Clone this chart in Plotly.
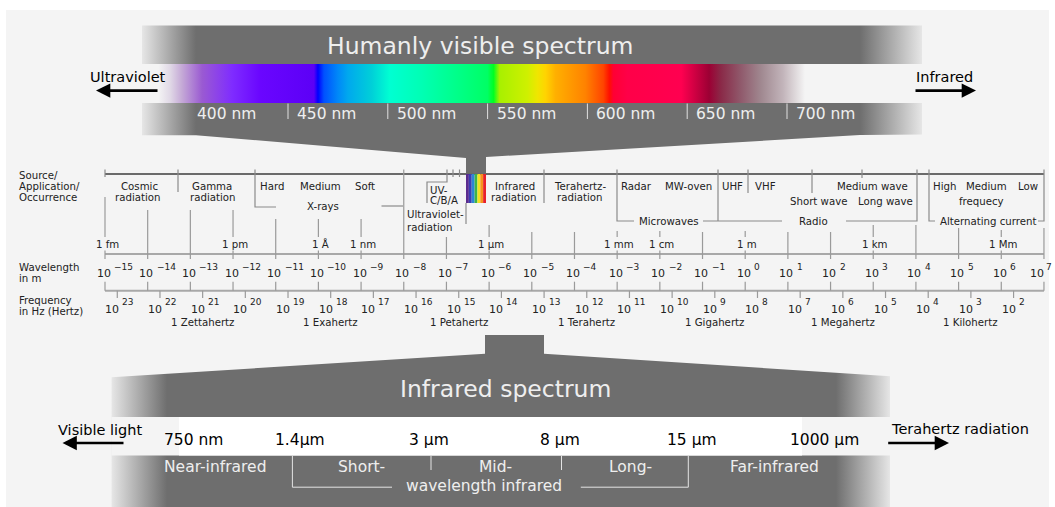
import plotly.graph_objects as go

FONT = "DejaVu Sans"
W, H = 1055, 507

# ---------------- data ----------------
visible_tick_nm = [400, 450, 500, 550, 600, 650, 700]
spectrum_nm = [385, 391, 397, 407, 422, 436, 463, 465, 468, 475, 480, 492, 501, 517, 550, 553,
               556, 570, 575, 579, 584, 599, 608, 611, 613, 620, 647, 661, 667, 677, 687, 698, 709]
spectrum_hex = ['#f4f4f4', '#e0d8e6', '#c4a8d6', '#9a5ad2', '#7f2cff', '#6a06ff', '#5c00f6',
                '#0000ff', '#0050ff', '#0088f8', '#00a8ee', '#00d0d8', '#00ffd2', '#00ffb4',
                '#00ff64', '#00ff22', '#a8f000', '#cff000', '#efe600', '#ffd400', '#ffb000',
                '#ff8200', '#ff4400', '#ff1000', '#ff0034', '#ff0048', '#ff0050', '#9c0034',
                '#8a2a48', '#905a6c', '#a08890', '#c2b4ba', '#f4f4f4']

wl_exponents = list(range(-15, 8))
wl_unit_labels = {-15: "1 fm", -12: "1 pm", -10: "1 Å", -9: "1 nm", -6: "1 µm", -3: "1 mm",
                  -2: "1 cm", 0: "1 m", 3: "1 km", 6: "1 Mm"}
freq_exponents = list(range(23, 1, -1))
freq_names = {21: "1 Zettahertz", 18: "1 Exahertz", 15: "1 Petahertz", 12: "1 Terahertz",
              9: "1 Gigahertz", 6: "1 Megahertz", 3: "1 Kilohertz"}
rainbow_hex = ['#5b2c8f', '#3b3fb2', '#2b86d6', '#3cb44a', '#f4e11e', '#f7931d', '#e8202a']

ir_boundary_labels = ["750 nm", "1.4μm", "3 μm", "8 μm", "15 μm", "1000 μm"]
ir_band_labels = ["Near-infrared", "Short-", "Mid-", "Long-", "Far-infrared"]

# ---------------- layout geometry (pixels) ----------------
WL_X0, WL_DEC = 105.0, 42.68        # pixel of 10^-15 m, pixels per decade
FREQ_LOG_OFFSET = 8.288             # log10 alignment between Hz and m scales as drawn
VIS_X450, VIS_PX_NM = 288.0, 1.996  # pixel of 450 nm, pixels per nm
LOG_RANGE = [-15 - WL_X0 / WL_DEC, -15 + (W - WL_X0) / WL_DEC]
NM_RANGE = [450 - VIS_X450 / VIS_PX_NM, 450 + (W - VIS_X450) / VIS_PX_NM]

wl_leader_top = [197, 210, 210, 210, 219, 219, 219, 169.5, 237, 225, 232, 232, 231, 231, 232,
                 231, 232, 232, 225, 225, 228, 230, 228]
ir_boundary_x = [193.6, 300, 428.6, 559.6, 691.5, 824]
ir_band_x = [214.6, 361, 495, 630.6, 774]

DARK = '#6e6e6e'
BG = '#f4f4f4'
EDGE = '#e6e6e6'
TXT = '#222222'
LIGHT_TXT = '#eeeeee'

fig = go.Figure()
shapes = []
ann = []


def poly(xs, ys, color=None, grad=None, xaxis='x'):
    kw = dict(x=xs + [xs[0]], y=ys + [ys[0]], mode='lines', fill='toself',
              line=dict(width=0, color='rgba(0,0,0,0)'), hoverinfo='skip', showlegend=False,
              xaxis=xaxis, yaxis='y')
    if grad is not None:
        kw['fillgradient'] = grad
        kw['fillcolor'] = DARK
    else:
        kw['fillcolor'] = color
    fig.add_trace(go.Scatter(**kw))


def fade_grad(x0, x1, x2, x3):
    span = x3 - x0
    return dict(type='horizontal', start=x0, stop=x3,
                colorscale=[[0, EDGE], [(x1 - x0) / span, DARK], [(x2 - x0) / span, DARK], [1, EDGE]])


def path(pts, color='#808080', width=1.2, xref='x', layer='above'):
    d = "M " + " L ".join(f"{x},{y}" for x, y in pts)
    shapes.append(dict(type='path', path=d, xref=xref, yref='y',
                       line=dict(color=color, width=width), layer=layer))


def seg(x0, y0, x1, y1, color='#9a9a9a', width=1.2, xref='x'):
    shapes.append(dict(type='line', x0=x0, y0=y0, x1=x1, y1=y1, xref=xref, yref='y',
                       line=dict(color=color, width=width), layer='above'))


def txt(s, x, y, size=10.2, color=TXT, xanchor='center', xref='x', xshift=0):
    ann.append(dict(text=s, x=x, y=y, xref=xref, yref='y', showarrow=False,
                    font=dict(family=FONT, size=size, color=color), xanchor=xanchor,
                    yanchor='middle', xshift=xshift, borderpad=0))


def arrow(tail, head, y):
    ann.append(dict(x=head, y=y, ax=tail, ay=y, xref='x', yref='y', axref='x', ayref='y',
                    showarrow=True, arrowhead=2, arrowsize=1.1, arrowwidth=2.6,
                    arrowcolor='black', text=''))


# dummy traces so overlay axes exist
fig.add_trace(go.Scatter(x=[LOG_RANGE[0]], y=[-10], xaxis='x2', yaxis='y', mode='markers',
                         marker=dict(opacity=0), hoverinfo='skip', showlegend=False))
fig.add_trace(go.Scatter(x=[NM_RANGE[0]], y=[-10], xaxis='x3', yaxis='y', mode='markers',
                         marker=dict(opacity=0), hoverinfo='skip', showlegend=False))

# panel background
shapes.append(dict(type='rect', x0=6, x1=1049, y0=10, y1=507, xref='x', yref='y',
                   fillcolor=BG, line=dict(width=0), layer='below'))

# ---------------- top: visible spectrum ----------------
poly([142, 922, 922, 860, 486, 486, 466, 466, 196, 142],
     [25.4, 25.4, 134.5, 135, 157, 174, 174, 158, 135.2, 135.2],
     grad=fade_grad(142, 196, 860, 922))
poly([142, 922, 922, 142], [63.9, 63.9, 103, 103], color=BG)
s0, s1 = spectrum_nm[0], spectrum_nm[-1]
poly([s0, s1, s1, s0], [63.9, 63.9, 103, 103], xaxis='x3',
     grad=dict(type='horizontal', start=s0, stop=s1,
               colorscale=[[(n - s0) / (s1 - s0), c] for n, c in zip(spectrum_nm, spectrum_hex)]))

txt("Humanly visible spectrum", 480, 45.6, size=23.5, color=LIGHT_TXT)
for nm in visible_tick_nm:
    if nm > 400:
        seg(nm, 103.5, nm, 119, color='#e0e0e0', width=1, xref='x3')
    txt(f"{nm} nm", nm, 114, size=15.5, color=LIGHT_TXT, xanchor='left', xref='x3', xshift=8)

txt("Ultraviolet", 128, 77, size=14.5, color='black')
arrow(159, 96, 90.6)
txt("Infrared", 944.5, 77, size=14.5, color='black')
arrow(914, 976, 90.6)

# ---------------- middle: source / wavelength / frequency ----------------
for s, y in [("Source/", 175), ("Application/", 186.5), ("Occurrence", 197.5),
             ("Wavelength", 267), ("in m", 278), ("Frequency", 300), ("in Hz (Hertz)", 311)]:
    txt(s, 18, y, size=10.2, xanchor='left')

seg(wl_exponents[0], 174, wl_exponents[-1], 174, color='#6a6a6a', width=2, xref='x2')

source_lines = [
    [(105, 169.5), (105, 177)],
    [(178, 169.5), (178, 192)],
    [(255, 169.5), (255, 207), (276, 207)],
    [(381.5, 206), (403, 206)],
    [(447, 169.5), (447, 182), (427, 182), (427, 203)],
    [(453, 169.5), (453, 177)],
    [(459.5, 169.5), (459.5, 177)],
    [(466, 203), (466, 224)],
    [(544, 169.5), (544, 203)],
    [(617, 169.5), (617, 221), (634, 221)],
    [(703, 221), (782, 221)],
    [(718, 169.5), (718, 221)],
    [(748, 169.5), (748, 193)],
    [(812, 169.5), (812, 193)],
    [(862, 169.5), (862, 178)],
    [(846, 221), (917, 221), (917, 169.5)],
    [(929, 169.5), (929, 221), (935, 221)],
    [(1038, 221), (1044, 221), (1044, 169.5)],
]
for pts in source_lines:
    path(pts, color='#8a8a8a', width=1.2)

# rainbow under the visible funnel
rw = 20 / len(rainbow_hex)
for i, c in enumerate(rainbow_hex):
    shapes.append(dict(type='rect', x0=466 + i * rw, x1=466 + (i + 1) * rw, y0=174, y1=203,
                       xref='x', yref='y', fillcolor=c, line=dict(width=0), layer='above'))

source_texts = [
    ("Cosmic", 139.5, 186.7), ("radiation", 138, 197), ("Gamma", 212, 186.7), ("radiation", 213, 197),
    ("Hard", 271.7, 186.7), ("Medium", 320, 186.7), ("Soft", 365, 186.7), ("X-rays", 323.3, 206.7),
    ("Infrared", 515, 186.7), ("radiation", 514, 197), ("Terahertz-", 579.7, 186.7),
    ("radiation", 580, 197), ("Radar", 636.7, 186.7), ("MW-oven", 688, 186.7),
    ("UHF", 732, 186.7), ("VHF", 765, 186.7), ("Medium wave", 872, 186.7),
    ("Short wave", 818, 201), ("Long wave", 885.8, 201), ("High", 944.5, 186.7),
    ("Medium", 986, 186.7), ("Low", 1028, 186.7), ("frequecy", 981.7, 201),
    ("Microwaves", 668.8, 221), ("Radio", 813, 221), ("Alternating current", 988.7, 221),
]
for s, x, y in source_texts:
    txt(s, x, y)
for s, y in [("UV-", 190.5), ("C/B/A", 200.5), ("Ultraviolet-", 214.8), ("radiation", 227.2)]:
    txt(s, 429 if s in ("UV-", "C/B/A") else 405.5, y, xanchor='left')

# wavelength axis
seg(wl_exponents[0], 254, wl_exponents[-1], 254, color='#a8a8a8', width=2, xref='x2')
seg(wl_exponents[0], 290.7, wl_exponents[-1], 290.7, color='#a8a8a8', width=2, xref='x2')
for e, top in zip(wl_exponents, wl_leader_top):
    if e in wl_unit_labels:
        seg(e, top, e, 237, xref='x2')
        seg(e, 250.5, e, 259, xref='x2')
        txt(wl_unit_labels[e], e, 244, size=10.2, xref='x2', xshift=2)
    else:
        seg(e, top, e, 259, xref='x2')
    seg(e, 281.7, e, 290.7, xref='x2')
    last = e == wl_exponents[-1]
    txt("10", e, 273.3, size=11, xref='x2', xshift=-7 if last else -1.5)
    txt(f"{e}".replace('-', '−'), e, 267, size=9, xref='x2', xanchor='left',
        xshift=1 if last else 8)

# frequency axis
for n in freq_exponents:
    fx = FREQ_LOG_OFFSET - n
    seg(fx, 290.7, fx, 298, xref='x2')
    txt("10", fx, 309.3, size=11, xref='x2', xshift=-5)
    txt(f"{n}", fx, 301.7, size=9, xref='x2', xanchor='left', xshift=4)
    if n in freq_names:
        txt(freq_names[n], fx, 322, size=10.2, xref='x2')

# ---------------- bottom: infrared spectrum ----------------
poly([485, 544, 544, 890, 890, 111.6, 111.6, 485],
     [335, 335, 353.7, 376.3, 507, 507, 377.3, 353.7],
     grad=fade_grad(111.6, 167, 836, 890))
poly([111.6, 890, 890, 111.6], [417, 417, 455.5, 455.5], color=BG)
poly([179, 802, 802, 179], [417, 417, 455.5, 455.5], color='#ffffff')

txt("Infrared spectrum", 505, 389, size=23.5, color=LIGHT_TXT)
for s, x in zip(ir_boundary_labels, ir_boundary_x):
    txt(s, x, 440, size=15.5, color='black')
for s, x in zip(ir_band_labels, ir_band_x):
    txt(s, x, 467, size=15.5, color=LIGHT_TXT)
txt("wavelength infrared", 483.6, 485.5, size=15.5, color=LIGHT_TXT)
for pts in [[(292.4, 455.8), (292.4, 487.2), (392, 487.2)],
            [(431, 456), (431, 470)],
            [(561.5, 456), (561.5, 470)],
            [(580.8, 487.2), (688.3, 487.2), (688.3, 455.8)]]:
    path(pts, color='#e4e4e4', width=1)

txt("Visible light", 99.7, 429.7, size=14.5, color='black')
arrow(125, 62.5, 443)
txt("Terahertz radiation", 960, 428.7, size=14.5, color='black')
arrow(886.7, 949, 443)

fig.update_layout(
    width=W, height=H, margin=dict(l=0, r=0, t=0, b=0), autosize=False,
    paper_bgcolor='white', plot_bgcolor='white', showlegend=False,
    xaxis=dict(range=[0, W], visible=False, fixedrange=True),
    xaxis2=dict(range=LOG_RANGE, visible=False, overlaying='x', fixedrange=True),
    xaxis3=dict(range=NM_RANGE, visible=False, overlaying='x', fixedrange=True),
    yaxis=dict(range=[H, 0], visible=False, fixedrange=True),
    shapes=shapes, annotations=ann,
)
fig.write_html("out.html", config={'displayModeBar': False},
               post_script="document.body.style.margin='0';document.body.style.overflow='hidden';")
